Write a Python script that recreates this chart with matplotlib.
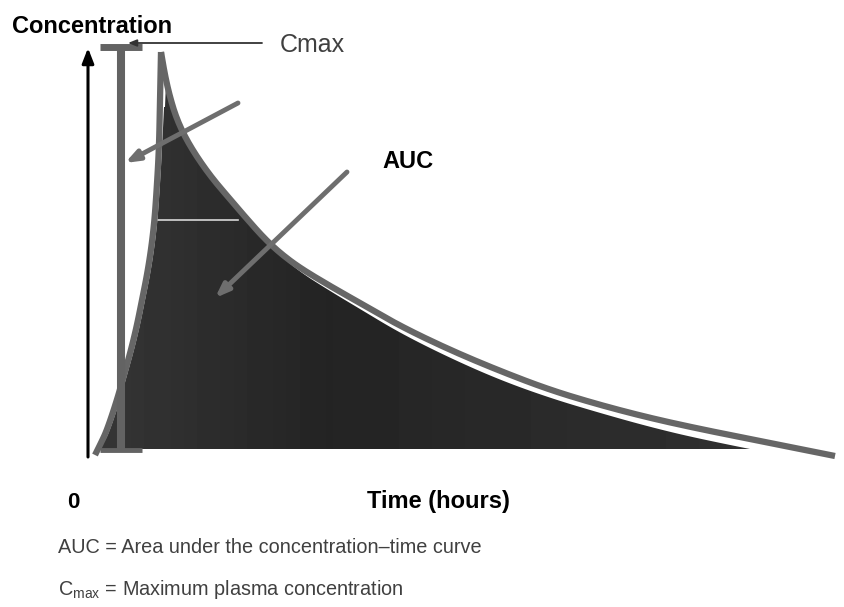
import matplotlib
matplotlib.use("Agg")
import matplotlib.pyplot as plt
import numpy as np
from matplotlib.path import Path
from matplotlib.patches import PathPatch

plt.rcParams['font.family'] = ['Liberation Sans', 'DejaVu Sans']
plt.rcParams['mathtext.fontset'] = 'custom'
plt.rcParams['mathtext.rm'] = 'Liberation Sans'

# diagram coordinates (pixel grid of the 845x607 picture, y grows downward)
rise_x = [95, 101, 107, 117, 124, 131, 137, 142, 147, 151, 154, 156, 159, 160, 161]
rise_y = [455, 443, 430, 400, 375, 350, 325, 300, 275, 250, 225, 200, 150, 100, 52]

decay_x = [161, 163, 166, 170, 176, 185, 197, 212, 229, 247, 264, 280, 300,
           330, 360, 400, 450, 500, 550, 600, 650, 700, 750, 800, 835]
decay_y = [52, 64, 80, 97, 117, 137, 157, 178, 198, 219, 238, 253, 268,
           286, 303, 326, 350, 371, 390, 405, 418, 429, 439, 449, 456]

# edge of the dark area, a little under the grey curve on the right
fill_x = [165, 166, 170, 176, 185, 197, 212, 229, 247, 264, 280, 300,
          330, 360, 400, 450, 500, 550, 600, 650, 700, 750]
fill_y = [107, 82, 99, 119, 139, 159, 180, 200, 221, 240, 255, 272,
          291, 309, 333, 358, 380, 398, 413, 427, 439, 449]
fill_left_x = [99, 104, 110, 120, 127, 134, 140, 145, 150, 154, 157, 159, 162, 164]
fill_left_y = [449, 443, 430, 400, 375, 350, 325, 300, 275, 250, 225, 200, 150, 107]


def smooth(xs, ys, n=10):
    # quadratic b-spline through the read points (for drawing only)
    p = np.column_stack([xs, ys]).astype(float)
    out = [p[0]]
    last = len(p) - 2
    for k in range(1, len(p) - 1):
        a = p[0] if k == 1 else (p[k - 1] + p[k]) / 2
        b = p[-1] if k == last else (p[k] + p[k + 1]) / 2
        t = np.linspace(0, 1, n)[1:, None]
        out.extend((1 - t) ** 2 * a + 2 * (1 - t) * t * p[k] + t ** 2 * b)
    out = np.array(out)
    return out[:, 0], out[:, 1]


fig = plt.figure(figsize=(8.45, 6.07), dpi=100)
ax = fig.add_axes([0, 0, 1, 1])
ax.set_xlim(0, 845)
ax.set_ylim(607, 0)
ax.axis('off')

# dark area under the curve, slight horizontal gradient
lx, ly = smooth(fill_left_x, fill_left_y)
rx, ry = smooth(fill_x[1:], fill_y[1:])
verts = list(zip(lx, ly)) + [(fill_x[0], fill_y[0])] + list(zip(rx, ry)) + [(lx[0], ly[0])]
patch = PathPatch(Path(verts, closed=True), facecolor='none', edgecolor='none')
ax.add_patch(patch)
grad = np.interp(np.linspace(0, 1, 200), [0, 0.35, 1], [0.21, 0.14, 0.19])
img = ax.imshow(np.tile(grad, (10, 1)), cmap='gray', vmin=0, vmax=1,
                extent=[95, 755, 452, 50], aspect='auto', zorder=1)
img.set_clip_path(patch)

# white line inside the area
ax.plot([158, 238], [220, 220], color='#d8d8d8', lw=1.2, zorder=2)

# grey concentration curve
sx, sy = smooth(rise_x, rise_y)
ax.plot(sx, sy, color='#666666', lw=4.5, solid_capstyle='butt', zorder=3)
sx, sy = smooth(decay_x, decay_y)
ax.plot(sx, sy, color='#666666', lw=4.5, solid_capstyle='butt', zorder=3)

# Cmax bar
ax.plot([121, 121], [46, 451], color='#636363', lw=5.8, solid_capstyle='butt', zorder=4)
ax.plot([100, 142], [46.5, 46.5], color='#636363', lw=5, solid_capstyle='butt', zorder=4)
ax.plot([100, 142], [450, 450], color='#636363', lw=3.5, solid_capstyle='butt', zorder=4)

# axes with arrows
ax.annotate('', xy=(88, 48), xytext=(88, 457),
            arrowprops=dict(arrowstyle='-|>,head_length=0.9,head_width=0.35',
                            color='black', lw=2.2, shrinkA=0, shrinkB=0), zorder=5)
ax.annotate('', xy=(848, 457), xytext=(86, 455),
            arrowprops=dict(arrowstyle='-|>,head_length=0.9,head_width=0.35',
                            color='black', lw=2.4, shrinkA=0, shrinkB=0), zorder=5)

# pointer arrows
ax.annotate('', xy=(128, 43), xytext=(262, 43),
            arrowprops=dict(arrowstyle='-|>,head_length=0.5,head_width=0.2',
                            color='#333333', lw=1.3, shrinkA=0, shrinkB=0), zorder=6)
ax.annotate('', xy=(125, 163), xytext=(238, 103),
            arrowprops=dict(arrowstyle='-|>,head_length=0.8,head_width=0.3',
                            color='#6e6e6e', lw=3.5, shrinkA=0, shrinkB=0), zorder=6)
ax.annotate('', xy=(215, 298), xytext=(347, 172),
            arrowprops=dict(arrowstyle='-|>,head_length=0.8,head_width=0.3',
                            color='#6e6e6e', lw=3.5, shrinkA=0, shrinkB=0), zorder=6)

# labels
ax.text(12, 33, 'Concentration', fontsize=17, fontweight='bold', va='baseline')
ax.text(280, 52, 'Cmax', fontsize=18, color='#404040', va='baseline')
ax.text(382, 168, 'AUC', fontsize=17, fontweight='bold', va='baseline')
ax.text(67, 508, '0', fontsize=16, fontweight='bold', va='baseline')
ax.text(367, 508, 'Time (hours)', fontsize=17, fontweight='bold', va='baseline')
ax.text(58, 553, 'AUC = Area under the concentration\u2013time curve',
        fontsize=14.3, color='#404040', va='baseline')
ax.text(58, 595, r'C$_{\mathrm{max}}$ = Maximum plasma concentration',
        fontsize=14.3, color='#404040', va='baseline')

fig.savefig('out.png', dpi=100)
